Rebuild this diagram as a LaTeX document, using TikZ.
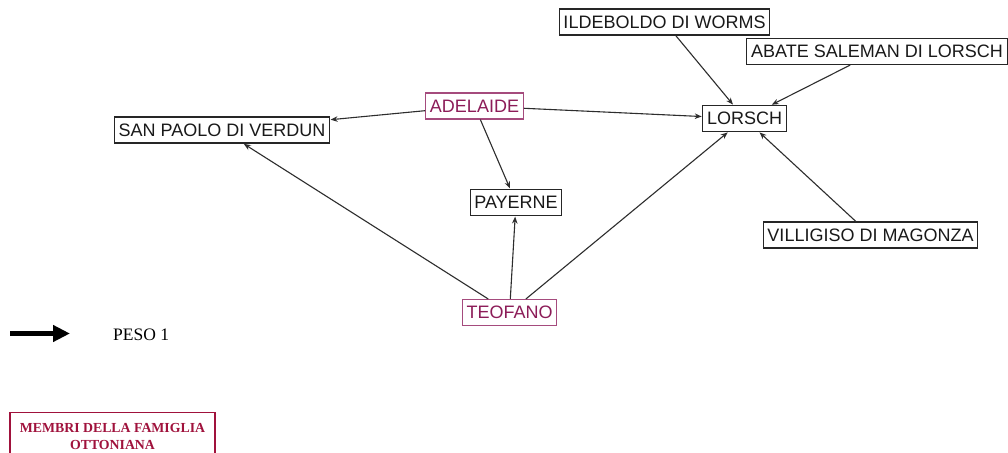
\documentclass[tikz,border=0pt]{standalone}
\usepackage{fontspec}
\setmainfont{Liberation Sans}
\newfontfamily\serifface{Liberation Serif}
\usetikzlibrary{arrows.meta}
\definecolor{ottotext}{RGB}{140,28,88}
\definecolor{ottoframe}{RGB}{165,75,125}
\definecolor{legendred}{RGB}{160,18,60}
\definecolor{edgegray}{RGB}{45,45,45}
\tikzset{
  place/.style={draw=black!85, line width=1.1pt, fill=white, font=\fontsize{18}{20}\selectfont,
    inner xsep=4.2pt, inner ysep=0pt, minimum height=26pt, text=black!90},
  otto/.style={place, draw=ottoframe, text=ottotext},
  link/.style={draw=edgegray, line width=1.1pt, -{Stealth[length=7pt,width=5.5pt]}, shorten >=0.5pt},
}
\begin{document}
\begin{tikzpicture}[x=1pt,y=-1pt]
\clip (0,0) rectangle (1008,452);
\useasboundingbox (0,0) rectangle (1008,452);
\fill[white] (0,0) rectangle (1008,452);

% places and people
\node[place] (ildeboldo) at (664.5,22) {ILDEBOLDO DI WORMS};
\node[place] (abate) at (877,51.5) {ABATE SALEMAN DI LORSCH};
\node[otto] (adelaide) at (474.5,106) {ADELAIDE};
\node[place] (lorsch) at (744.5,118.5) {LORSCH};
\node[place] (verdun) at (222,130) {SAN PAOLO DI VERDUN};
\node[place] (payerne) at (516,202.5) {PAYERNE};
\node[place] (villigiso) at (870.5,235) {VILLIGISO DI MAGONZA};
\node[otto] (teofano) at (509.5,312.5) {TEOFANO};

% connections
\draw[link] (adelaide) -- (verdun);
\draw[link] (adelaide) -- (lorsch);
\draw[link] (adelaide) -- (payerne);
\draw[link] (teofano) -- (verdun);
\draw[link] (teofano) -- (payerne);
\draw[link] (teofano) -- (lorsch);
\draw[link] (ildeboldo) -- (lorsch);
\draw[link] (abate) -- (lorsch);
\draw[link] (villigiso) -- (lorsch);

% legend
\coordinate (wstart) at (10,333.5);
\coordinate (wend) at (70,333.5);
\draw[line width=5pt, -{Triangle[length=17pt,width=16pt]}] (wstart) -- (wend);
\node[anchor=west, font=\serifface\fontsize{17.5}{20}\selectfont, inner sep=0pt] (peso) at (113,335) {PESO 1};
\node[draw=legendred, line width=1.1pt, text=legendred, anchor=north, minimum width=205pt, minimum height=47pt,
  align=center, inner sep=0pt, font=\serifface\bfseries\fontsize{13.8}{17}\selectfont] (famiglia) at (112.5,412)
  {MEMBRI DELLA FAMIGLIA\\OTTONIANA};
\end{tikzpicture}
\end{document}
